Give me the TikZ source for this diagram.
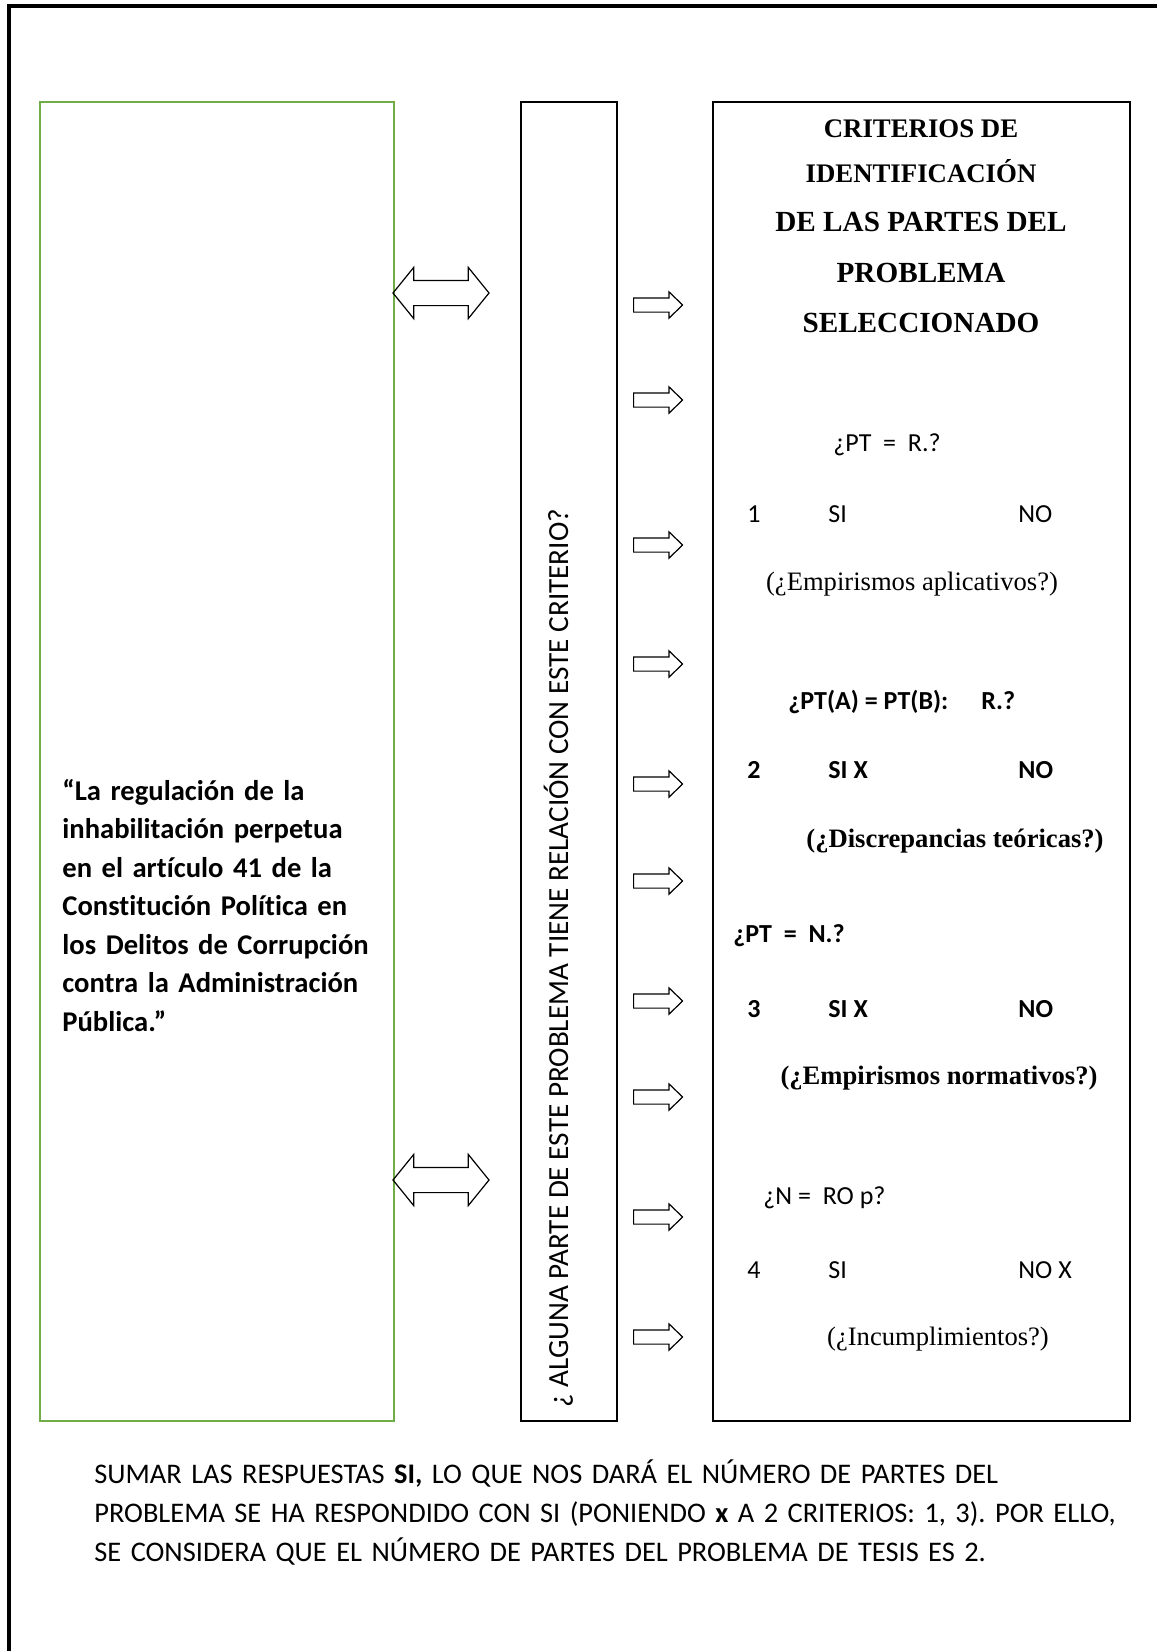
\documentclass[tikz,border=0pt]{standalone}
\usepackage{fontspec}
\setmainfont{Liberation Serif}
\newfontfamily\calibri[Ligatures=NoCommon]{Carlito}
\usepackage{xcolor}
\usepackage{tikz}
\usetikzlibrary{shapes,arrows,positioning,calc}
\definecolor{boxgreen}{HTML}{70AD47}
\frenchspacing

\begin{document}
\begin{tikzpicture}[x=0.5pt, y=-0.5pt,
    frame/.style={draw=black, line width=0.8pt},
    greenframe/.style={draw=boxgreen, line width=1pt},
    rarrow/.style={draw, single arrow, line width=0.6pt, inner sep=3.25pt,
        minimum height=24.5pt, single arrow head extend=3pt,
        single arrow tip angle=88, anchor=tail},
    darrow/.style={draw, double arrow, line width=0.6pt, inner sep=6pt,
        minimum height=48pt, double arrow head extend=6.5pt,
        double arrow tip angle=102},
    calib/.style={font=\calibri\fontsize{13}{15.6}\selectfont, anchor=base west, inner sep=0pt},
    calibb/.style={font=\calibri\bfseries\fontsize{13}{15.6}\selectfont, anchor=base west, inner sep=0pt},
    serif/.style={font=\fontsize{13.3}{16}\selectfont, anchor=base, inner sep=0pt},
    serifb/.style={font=\bfseries\fontsize{13.3}{16}\selectfont, anchor=base, inner sep=0pt},
    title/.style={font=\bfseries\fontsize{14.6}{17.5}\selectfont, anchor=base, inner sep=0pt}]
    \useasboundingbox (0,0) rectangle (1157,1651);

    % page frame
    \draw[line width=2pt] (9,1651) -- (9,6) -- (1157,6);

    % the three boxes
    \draw[greenframe] (40,102) rectangle (394,1421);
    \draw[frame] (521,102) rectangle (617,1421);
    \draw[frame] (713,102) rectangle (1130,1421);

    % problem statement
    \node[font=\calibri\bfseries\fontsize{14.3}{19.25}\selectfont, text width=170pt,
        align=left, anchor=base west, inner sep=0pt] (tema) at (62,800)
        {“La regulación de la\\ inhabilitación perpetua\\ en el artículo 41 de la\\
         Constitución Política en\\ los Delitos de Corrupción\\ contra la Administración\\ Pública.”};

    % double arrows
    \node[darrow] (d1) at (441,293) {};
    \node[darrow] (d2) at (441,1180) {};

    % vertical question
    \node[font=\calibri\fontsize{14.6}{17}\selectfont, rotate=90, anchor=base west,
        inner sep=0pt] (pregunta) at (568,1408)
        {¿ ALGUNA PARTE DE ESTE PROBLEMA TIENE RELACIÓN CON ESTE CRITERIO?};

    % right arrows
    \node[rarrow] (r1) at (633,305) {};
    \node[rarrow] (r2) at (633,400) {};
    \node[rarrow] (r3) at (633,545) {};
    \node[rarrow] (r4) at (633,664) {};
    \node[rarrow] (r5) at (633,784) {};
    \node[rarrow] (r6) at (633,881) {};
    \node[rarrow] (r7) at (633,1001) {};
    \node[rarrow] (r8) at (633,1097) {};
    \node[rarrow] (r9) at (633,1217) {};
    \node[rarrow] (r10) at (633,1337) {};

    % title
    \node[title, font=\bfseries\fontsize{13.4}{16}\selectfont] (t1) at (921,137) {CRITERIOS DE};
    \node[title, font=\bfseries\fontsize{13.4}{16}\selectfont] (t2) at (921,182) {IDENTIFICACIÓN};
    \node[title] (t3) at (921,231) {DE LAS PARTES DEL};
    \node[title] (t4) at (921,282) {PROBLEMA};
    \node[title] (t5) at (921,332) {SELECCIONADO};

    % criterio 1
    \node[calib] (q1) at (833,451) {¿PT~~=~~R.?};
    \node[calib] (n1) at (747,522) {1};
    \node[calib] (si1) at (828,522) {SI};
    \node[calib] (no1) at (1018,522) {NO};
    \node[serif] (c1) at (912,590) {(¿Empirismos aplicativos?)};

    % criterio 2
    \node[calibb] (q2) at (788,709) {¿PT(A) = PT(B):\hspace{16.5pt}R.?};
    \node[calibb] (n2) at (747,778) {2};
    \node[calibb] (si2) at (828,778) {SI X};
    \node[calibb] (no2) at (1018,778) {NO};
    \node[serifb] (c2) at (955,847) {(¿Discrepancias teóricas?)};

    % criterio 3
    \node[calibb] (q3) at (733,942) {¿PT~~=~~N.?};
    \node[calibb] (n3) at (747,1017) {3};
    \node[calibb] (si3) at (828,1017) {SI X};
    \node[calibb] (no3) at (1018,1017) {NO};
    \node[serifb] (c3) at (939,1084) {(¿Empirismos normativos?)};

    % criterio 4
    \node[calib] (q4) at (763,1204) {¿N~=~~RO p?};
    \node[calib] (n4) at (747,1278) {4};
    \node[calib] (si4) at (828,1278) {SI};
    \node[calib] (no4) at (1018,1278) {NO X};
    \node[serif] (c4) at (938,1345) {(¿Incumplimientos?)};

    % conclusion
    \node[font=\calibri\fontsize{14.2}{19.5}\selectfont, text width=530pt, align=left,
        anchor=base west, inner sep=0pt] (suma) at (94,1483)
        {SUMAR LAS RESPUESTAS \textbf{SI,} LO QUE NOS DARÁ EL NÚMERO DE PARTES DEL\\
         PROBLEMA SE HA RESPONDIDO CON SI (PONIENDO \textbf{x} A 2 CRITERIOS: 1, 3). POR ELLO,\\
         SE CONSIDERA QUE EL NÚMERO DE PARTES DEL PROBLEMA DE TESIS ES 2.};
\end{tikzpicture}
\end{document}
